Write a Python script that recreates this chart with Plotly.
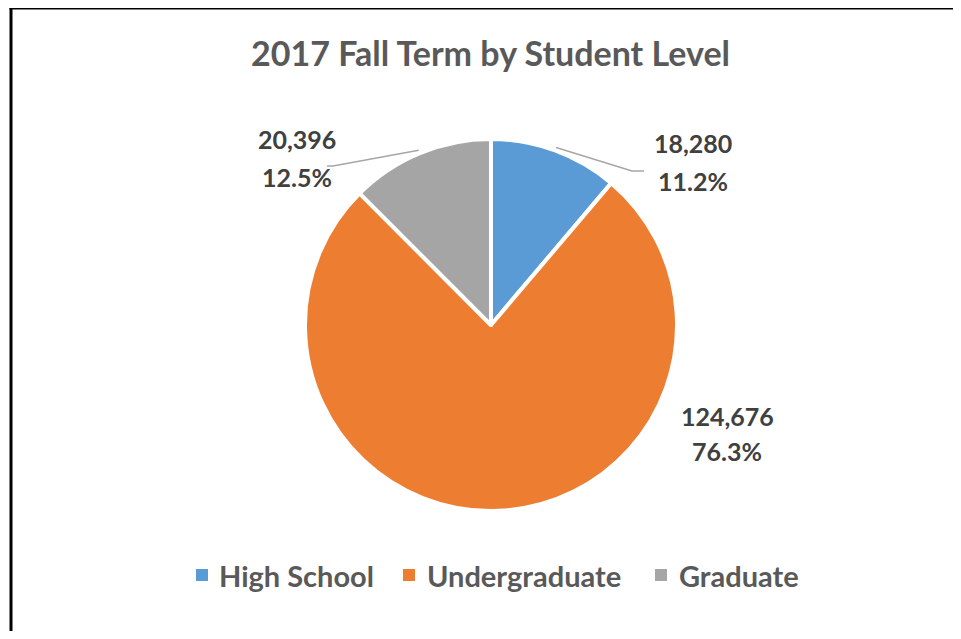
import math
import plotly.graph_objects as go

# ---- data ----
chart_title = "2017 Fall Term by Student Level"
levels = ["High School", "Undergraduate", "Graduate"]
enrollment = [18280, 124676, 20396]
slice_colors = ["#5B9BD5", "#ED7D31", "#A5A5A5"]

# ---- layout constants (pixels in the reference screenshot) ----
OFF = 8                      # page body margin offset
W, H = 961 - 2 * OFF, 639 - 2 * OFF
cx, cy, R = 491, 325, 186
FONT = "Lato"
TEXT_DARK = "#404040"
TEXT_GREY = "#595959"

# label placement per slice
label_layout = [
    dict(x=693, y1=143, y2=181, elbow=(632, 171), end=(644, 171)),
    dict(x=727, y1=416, y2=451, elbow=None, end=None),
    dict(x=297, y1=139, y2=177, elbow=(333, 166), end=(327, 166)),
]
# legend placement: square left x, text left x
legend_layout = [(196, 217), (403, 425), (655, 677)]
LEGEND_Y = 575


def px(x):
    return (x - OFF) / W


def py(y):
    return 1 - (y - OFF) / H


fig = go.Figure(
    go.Pie(
        labels=levels,
        values=enrollment,
        sort=False,
        direction="clockwise",
        rotation=0,
        marker=dict(colors=slice_colors, line=dict(color="white", width=4)),
        textinfo="none",
        hoverinfo="skip",
        showlegend=False,
        domain=dict(x=[px(cx - R), px(cx + R)], y=[py(cy + R), py(cy - R)]),
    )
)

total = sum(enrollment)
annotations = []
shapes = []
cum = 0
for v, lay in zip(enrollment, label_layout):
    frac_mid = (cum + v / 2) / total
    cum += v
    ang = 2 * math.pi * frac_mid
    pct = v / total * 100
    for txt, yy in ((f"{v:,}", lay["y1"]), (f"{pct:.1f}%", lay["y2"])):
        annotations.append(dict(x=px(lay["x"]), y=py(yy), xref="paper", yref="paper",
                                text=txt, showarrow=False, xanchor="center", yanchor="middle",
                                font=dict(family=FONT, size=25, color=TEXT_DARK, weight="bold")))
    if lay["elbow"] is not None:
        sx = cx + 189 * math.sin(ang)
        sy = cy - 189 * math.cos(ang)
        ex, ey = lay["elbow"]
        tx, ty = lay["end"]
        path = f"M {px(sx)} {py(sy)} L {px(ex)} {py(ey)} L {px(tx)} {py(ty)}"
        shapes.append(dict(type="path", path=path, xref="paper", yref="paper",
                           line=dict(color="#A6A6A6", width=1.5)))

# legend (manual)
for name, col, (sqx, tx) in zip(levels, slice_colors, legend_layout):
    shapes.append(dict(type="rect", xref="paper", yref="paper",
                       x0=px(sqx), x1=px(sqx + 12), y0=py(LEGEND_Y + 6), y1=py(LEGEND_Y - 6),
                       fillcolor=col, line=dict(width=0)))
    annotations.append(dict(x=px(tx), y=py(LEGEND_Y), xref="paper", yref="paper",
                            text=name, showarrow=False, xanchor="left", yanchor="middle",
                            font=dict(family=FONT, size=29, color=TEXT_GREY, weight="bold")))

# chart frame (only left and top edges are visible in the reference)
shapes.append(dict(type="line", xref="paper", yref="paper",
                   x0=px(11), x1=px(11), y0=-0.1, y1=py(8) + 1.5 / H,
                   line=dict(color="black", width=3)))
shapes.append(dict(type="line", xref="paper", yref="paper",
                   x0=px(11) - 1.5 / W, x1=1.0, y0=py(8), y1=py(8),
                   line=dict(color="black", width=3)))

annotations.append(dict(x=px(491), y=py(52), xref="paper", yref="paper", text=chart_title,
                        showarrow=False, xanchor="center", yanchor="middle",
                        font=dict(family=FONT, size=34, color=TEXT_GREY, weight="bold")))

fig.update_layout(
    width=W, height=H,
    margin=dict(l=0, r=0, t=0, b=0),
    paper_bgcolor="white", plot_bgcolor="white",
    showlegend=False,
    annotations=annotations,
    shapes=shapes,
)

fig.write_html("out.html")
